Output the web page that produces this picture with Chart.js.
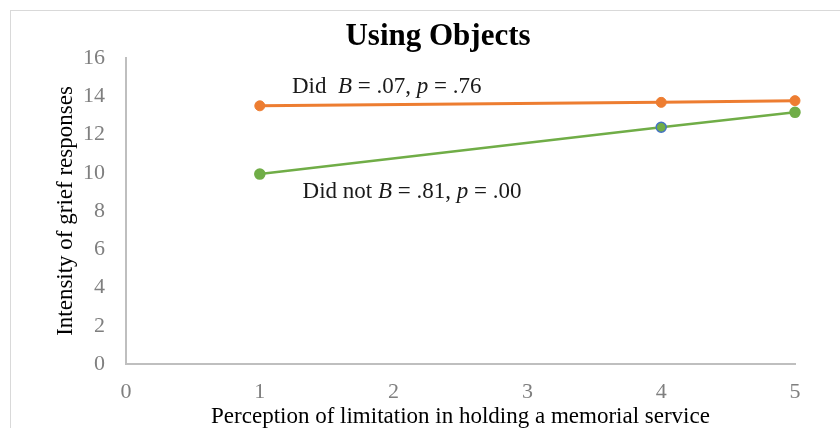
<!DOCTYPE html>
<html>
<head>
<meta charset="utf-8">
<script src="https://cdn.jsdelivr.net/npm/chart.js@4/dist/chart.umd.min.js"></script>
<style>
  html, body { margin: 0; padding: 0; background: #fff; }
  #wrap { width: 840px; height: 428px; }
</style>
</head>
<body>
<div id="wrap"><canvas id="chart" width="840" height="428"></canvas></div>
<script>
const chartTitle = 'Using Objects';
const xTitle = 'Perception of limitation in holding a memorial service';
const yTitle = 'Intensity of grief responses';

const xValues = [1, 4, 5];
const didValues = [13.5, 13.68, 13.77];
const didNotValues = [9.93, 12.38, 13.16];

// annotation text pieces: [text, italic]
const didLabel = [['Did  ', false], ['B', true], [' = .07, ', false], ['p', true], [' = .76', false]];
const didNotLabel = [['Did not ', false], ['B', true], [' = .81, ', false], ['p', true], [' = .00', false]];
const didLabelAt = { x: 1.24, y: 14.17 };
const didNotLabelAt = { x: 1.32, y: 8.68 };

const serif = '"Liberation Serif", "Times New Roman", serif';

const toPoints = (ys) => xValues.map((x, i) => ({ x: x, y: ys[i] }));

const decor = {
  id: 'decor',
  beforeDraw(chart) {
    const ctx = chart.ctx;
    ctx.save();
    ctx.strokeStyle = '#d9d9d9';
    ctx.lineWidth = 1;
    ctx.strokeRect(10.5, 10.5, 900, 500);
    ctx.restore();
  },
  afterDraw(chart) {
    const ctx = chart.ctx;
    const xs = chart.scales.x, ys = chart.scales.y;
    ctx.save();
    // title
    ctx.fillStyle = '#000';
    ctx.font = 'bold 31px ' + serif;
    ctx.textAlign = 'center';
    ctx.textBaseline = 'alphabetic';
    ctx.fillText(chartTitle, 438, 45);

    // annotations
    const drawRich = (parts, at) => {
      let x = xs.getPixelForValue(at.x);
      const y = ys.getPixelForValue(at.y);
      ctx.textAlign = 'left';
      parts.forEach(([t, it]) => {
        ctx.font = (it ? 'italic ' : '') + '23px ' + serif;
        ctx.fillText(t, x, y);
        x += ctx.measureText(t).width;
      });
    };
    ctx.fillStyle = '#1a1a1a';
    drawRich(didLabel, didLabelAt);
    drawRich(didNotLabel, didNotLabelAt);
    ctx.restore();
  }
};

new Chart(document.getElementById('chart'), {
  type: 'line',
  data: {
    datasets: [
      {
        label: 'Did',
        data: toPoints(didValues),
        borderColor: '#ED7D31',
        backgroundColor: '#ED7D31',
        borderWidth: 3,
        pointRadius: 5,
        pointBorderWidth: 1,
        pointBorderColor: '#ED7D31',
        clip: false
      },
      {
        label: 'Did not',
        data: toPoints(didNotValues),
        borderColor: '#70AD47',
        backgroundColor: '#70AD47',
        borderWidth: 2.5,
        pointRadius: 5,
        pointBorderWidth: 1.5,
        pointBorderColor: ['#70AD47', '#4472C4', '#70AD47'],
        clip: false
      }
    ]
  },
  options: {
    responsive: false,
    animation: false,
    layout: { padding: { left: 0, right: 45, top: 58, bottom: 0 } },
    plugins: {
      legend: { display: false },
      tooltip: { enabled: false },
      title: { display: false }
    },
    scales: {
      x: {
        type: 'linear',
        min: 0,
        max: 5,
        afterFit: (s) => { s.height = 64; },
        grid: { display: false, drawTicks: false },
        border: { display: true, color: '#bfbfbf', width: 2 },
        ticks: { stepSize: 1, padding: 15, color: '#7f7f7f', font: { family: serif, size: 22 } },
        title: {
          display: true,
          text: xTitle,
          color: '#000',
          padding: 0,
          font: { family: serif, size: 23, lineHeight: 1.0 }
        }
      },
      y: {
        min: 0,
        max: 16,
        afterFit: (s) => { s.width = 126; },
        grid: { display: false, drawTicks: false },
        border: { display: true, color: '#bfbfbf', width: 2 },
        ticks: { stepSize: 2, padding: 21, color: '#7f7f7f', font: { family: serif, size: 22 } },
        title: {
          display: true,
          text: yTitle,
          color: '#000',
          padding: { top: 52, bottom: 0 },
          font: { family: serif, size: 23, lineHeight: 1.2 }
        }
      }
    }
  },
  plugins: [decor]
});
</script>
</body>
</html>
